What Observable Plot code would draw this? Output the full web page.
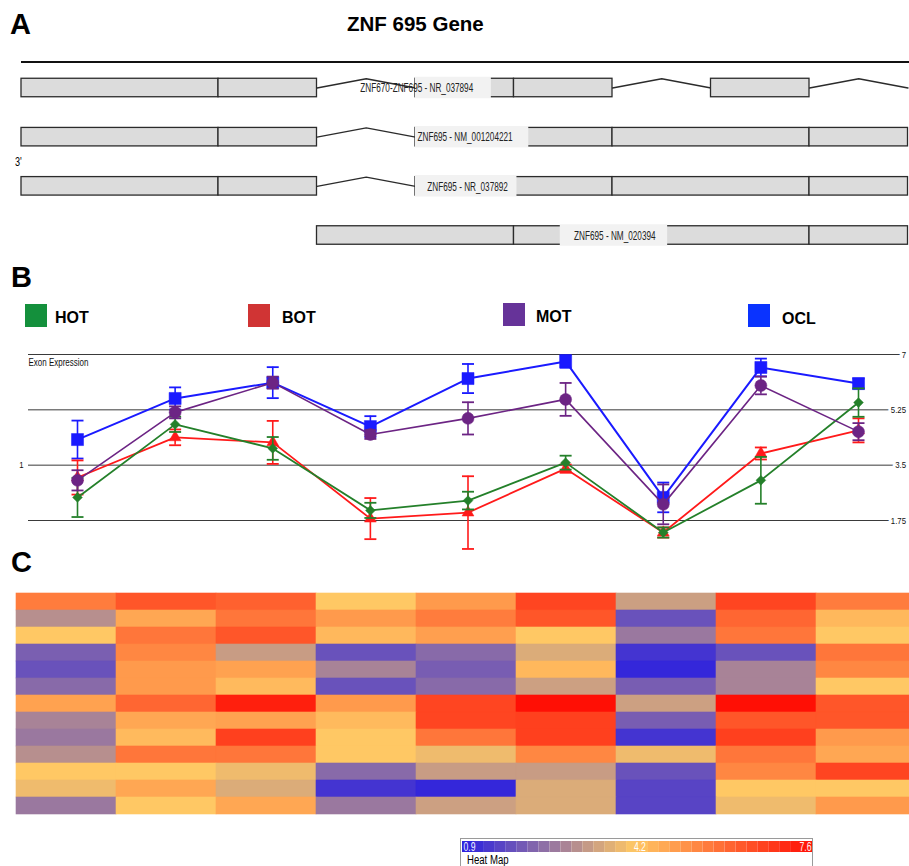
<!DOCTYPE html>
<html><head><meta charset="utf-8">
<script src="https://cdn.jsdelivr.net/npm/d3@7"></script>
<script src="https://cdn.jsdelivr.net/npm/@observablehq/plot@0.6"></script>
<style>
body{margin:0;background:#fff;}
#root{position:relative;width:909px;height:866px;overflow:hidden;background:#fff;font-family:"Liberation Sans",Arial,sans-serif;color:#000;}
.abs{position:absolute;white-space:nowrap;line-height:1;}
</style></head><body><div id="root"></div>
<script>
// ---------------- DATA ----------------
// Panel A: transcripts of ZNF695 (exon grid units)
const transcripts = ["ZNF670-ZNF695 - NR_037894", "ZNF695 - NM_001204221", "ZNF695 - NR_037892", "ZNF695 - NM_020394"];
const exonRow   = [0, 0, 0, 0, 0,   1, 1, 1, 1, 1, 1,   2, 2, 2, 2, 2, 2,   3, 3, 3, 3];
const exonStart = [0, 2, 4, 5, 7,   0, 2, 4, 5, 6, 8,   0, 2, 4, 5, 6, 8,   3, 5, 6, 8];
const exonEnd   = [2, 3, 5, 6, 8,   2, 3, 5, 6, 8, 9,   2, 3, 5, 6, 8, 9,   5, 6, 8, 9];
const intronRow   = [0, 0, 0, 1, 2];
const intronStart = [3, 6, 8, 3, 3];
const intronEnd   = [4, 7, 9, 4, 4];
const labelStart    = [3.44, 4.02, 4.12, 5.61];
const labelBoxStart = [4.0, 4.0, 4.0, 5.47];
const labelBoxEnd   = [4.77, 5.15, 5.03, 6.56];

// Panel B: exon expression
const groups = ["HOT", "BOT", "MOT", "OCL"];
const exonIdx = [1, 2, 3, 4, 5, 6, 7, 8, 9];
const hotMean = [2.48, 4.79, 4.03, 2.07, 2.38, 3.58, 1.37, 3.02, 5.48];
const hotErr  = [0.62, 0.24, 0.36, 0.24, 0.28, 0.22, 0.16, 0.74, 0.45];
const botMean = [3.11, 4.38, 4.22, 1.81, 2.00, 3.39, 1.37, 3.87, 4.60];
const botErr  = [0.54, 0.25, 0.68, 0.65, 1.15, 0.13, 0.16, 0.19, 0.38];
const motMean = [3.02, 5.17, 6.11, 4.47, 4.98, 5.58, 2.26, 6.02, 4.56];
const motErr  = [0.32, 0.19, 0.19, 0.14, 0.51, 0.52, 0.63, 0.28, 0.27];
const oclMean = [4.31, 5.61, 6.11, 4.72, 6.24, 6.78, 2.48, 6.59, 6.08];
const oclErr  = [0.60, 0.35, 0.49, 0.33, 0.46, 0.20, 0.47, 0.28, 0.16];
const yTicks = [1.75, 3.5, 5.25, 7];
const leftLabels = [{y: 3.5, text: "1"}];

// Panel C: heat map (13 rows x 9 exons)
const heatColumns = [1, 2, 3, 4, 5, 6, 7, 8, 9];
const heatValues = [
  [5.6, 6.3, 6.1, 4.2, 5.05, 6.6, 3.4, 6.6, 5.6],
  [3.1, 4.8, 5.7, 5.05, 5.6, 6.3, 1.9, 6.0, 4.5],
  [4.2, 5.7, 6.3, 4.5, 4.95, 4.2, 2.65, 5.7, 4.2],
  [2.16, 5.4, 3.35, 1.9, 2.37, 3.65, 1.33, 1.9, 5.7],
  [1.9, 5.05, 4.9, 2.86, 2.13, 4.5, 1.08, 2.86, 5.4],
  [2.37, 5.05, 4.45, 1.9, 2.37, 3.42, 2.13, 2.86, 4.2],
  [4.9, 6.0, 7.3, 5.05, 6.6, 7.6, 3.42, 7.6, 6.3],
  [2.86, 4.8, 4.9, 4.45, 6.6, 6.7, 2.13, 6.3, 6.3],
  [2.65, 4.45, 6.7, 4.2, 5.7, 6.7, 1.33, 6.7, 5.05],
  [3.1, 5.7, 5.7, 4.2, 3.95, 5.4, 3.95, 5.7, 4.8],
  [4.2, 4.2, 3.95, 2.37, 3.35, 3.35, 1.9, 5.4, 6.6],
  [3.95, 4.8, 3.65, 1.33, 1.08, 3.65, 1.64, 4.2, 4.2],
  [2.65, 4.2, 4.8, 2.65, 3.42, 3.65, 1.64, 3.95, 5.05]
];
const colorTicks = [0.9, 4.2, 7.6];

// ---------------- HELPERS ----------------
const root = document.getElementById("root");
const FONT = "Liberation Sans, Arial, sans-serif";
function place(el, left, top) {
  const w = document.createElement("div");
  w.className = "abs"; w.style.left = left + "px"; w.style.top = top + "px";
  w.appendChild(el); root.appendChild(w); return w;
}
function label(text, left, baseline, fs, o = {}) {
  const d = document.createElement("div");
  d.className = "abs"; d.textContent = text;
  d.style.left = left + "px"; d.style.top = (baseline - 0.8465 * fs) + "px";
  d.style.fontSize = fs + "px";
  if (o.bold) d.style.fontWeight = "bold";
  if (o.sx) { d.style.transform = `scaleX(${o.sx})`; d.style.transformOrigin = "left top"; }
  if (o.color) d.style.color = o.color;
  root.appendChild(d); return d;
}
function box(left, top, w, h, css) {
  const d = document.createElement("div");
  d.className = "abs"; d.style.left = left + "px"; d.style.top = top + "px";
  d.style.width = w + "px"; d.style.height = h + "px"; d.style.cssText += css;
  root.appendChild(d); return d;
}
// horizontally condense all texts of a plot (factor may depend on the text)
function squeeze(svg, f) {
  d3.select(svg).selectAll("text").each(function () {
    const k = typeof f === "function" ? f(this.textContent) : f;
    const L = this.getComputedTextLength();
    if (L > 0) {
      this.setAttribute("textLength", L * k);
      this.setAttribute("lengthAdjust", "spacingAndGlyphs");
    }
  });
}
const svgStyle = {background: "transparent", fontFamily: FONT, overflow: "visible"};

// ---------------- PANEL A ----------------
const half = 0.188;
const exons = exonRow.map((r, i) => ({row: r, x1: exonStart[i], x2: exonEnd[i]}));
const intronPts = intronRow.flatMap((r, i) => [
  {id: i, x: intronStart[i], y: r},
  {id: i, x: (intronStart[i] + intronEnd[i]) / 2, y: r - half},
  {id: i, x: intronEnd[i], y: r}
]);
const labels = transcripts.map((t, i) => ({row: i, text: t, x: labelStart[i], b1: labelBoxStart[i], b2: labelBoxEnd[i]}));

const plotA = Plot.plot({
  width: 909, height: 200, marginLeft: 21, marginRight: 1.5, marginTop: 7, marginBottom: 0,
  style: svgStyle,
  x: {domain: [0, 9], axis: null},
  y: {domain: [0, 3], range: [32.5, 180], axis: null},
  marks: [
    Plot.line(intronPts, {x: "x", y: "y", z: "id", stroke: "#2b2b2b", strokeWidth: 1.3}),
    Plot.rect(exons, {x1: "x1", x2: "x2", y1: d => d.row - half, y2: d => d.row + half, fill: "#dcdcdc", stroke: "#2b2b2b", strokeWidth: 1.3}),
    Plot.rect(labels, {x1: "b1", x2: "b2", y1: d => d.row - half - 0.03, y2: d => d.row + half + 0.03, fill: "#f2f2f2"}),
    Plot.text(labels, {x: "x", y: "row", text: "text", textAnchor: "start", fontSize: 13, fill: "#222"})
  ]
});
place(plotA, 0, 55);
squeeze(plotA, 0.63);

// ---------------- PANEL B ----------------
const capSymbol = {draw(ctx, size) { const r = Math.sqrt(size / Math.PI); ctx.moveTo(-r, 0); ctx.lineTo(r, 0); }};
function seriesMarks(mean, err, color, symbol, r, sw) {
  const d = exonIdx.map((x, i) => ({x, y: mean[i], lo: mean[i] - err[i], hi: mean[i] + err[i]}));
  return [
    Plot.line(d, {x: "x", y: "y", stroke: color, strokeWidth: sw}),
    Plot.ruleX(d, {x: "x", y1: "lo", y2: "hi", stroke: color, strokeWidth: 1.6}),
    Plot.dot(d, {x: "x", y: "lo", symbol: capSymbol, r: 6, fill: "none", stroke: color, strokeWidth: 1.8}),
    Plot.dot(d, {x: "x", y: "hi", symbol: capSymbol, r: 6, fill: "none", stroke: color, strokeWidth: 1.8}),
    Plot.dot(d, {x: "x", y: "y", symbol, r, fill: color, stroke: color, strokeWidth: 0.5})
  ];
}
const plotB = Plot.plot({
  width: 909, height: 215, marginLeft: 28, marginRight: 3.5, marginTop: 14, marginBottom: 35,
  style: svgStyle,
  x: {domain: [1, 9], range: [77, 858], axis: null},
  y: {domain: [1.75, 7], axis: null},
  marks: [
    Plot.ruleY(yTicks, {stroke: "#3a3a3a", strokeWidth: 1}),
    Plot.text(yTicks, {y: d => d, text: d => String(d), frameAnchor: "right", textAnchor: "end", fontSize: 9.5, fill: "white", stroke: "white", strokeWidth: 7}),
    Plot.text(yTicks, {y: d => d, text: d => String(d), frameAnchor: "right", textAnchor: "end", fontSize: 9.5, fill: "#111"}),
    Plot.text(["Exon Expression"], {text: d => d, frameAnchor: "top-left", dy: 4, textAnchor: "start", fontSize: 10.5, fill: "#111"}),
    Plot.text(leftLabels, {y: "y", text: "text", frameAnchor: "left", dx: -5, textAnchor: "end", fontSize: 9.5, fill: "#111"}),
    ...seriesMarks(oclMean, oclErr, "#1a1aff", "square", 6.8, 2),
    ...seriesMarks(botMean, botErr, "#ff1a1a", "triangle", 4.4, 1.8),
    ...seriesMarks(hotMean, hotErr, "#24802a", "diamond2", 4.4, 1.8),
    ...seriesMarks(motMean, motErr, "#6c2484", "circle", 6, 1.6)
  ]
});
place(plotB, 0, 340);
squeeze(plotB, t => t === "Exon Expression" ? 0.76 : 0.82);

// ---------------- PANEL C ----------------
const colorScale = {type: "linear", domain: colorTicks, range: ["#281ee1", "#ffc864", "#ff0f05"], interpolate: "rgb"};
const heat = heatValues.flatMap((row, i) => row.map((v, j) => ({row: i + 1, col: heatColumns[j], v})));
const plotC = Plot.plot({
  width: 909, height: 235, marginLeft: 12, marginRight: -10, marginTop: 5, marginBottom: 4,
  style: svgStyle,
  x: {type: "band", domain: heatColumns, padding: 0, axis: null},
  y: {type: "band", domain: heatValues.map((_, i) => i + 1), padding: 0, axis: null},
  color: colorScale,
  marks: [Plot.cell(heat, {x: "col", y: "row", fill: "v", stroke: "v", strokeWidth: 0.6, inset: 0})]
});
place(plotC, 0, 585);

// colour bar
const lo = colorTicks[0], hi = colorTicks[colorTicks.length - 1], nSteps = 32;
const steps = d3.range(nSteps).map(i => ({a: lo + i * (hi - lo) / nSteps, b: lo + (i + 1) * (hi - lo) / nSteps}));
box(460, 838, 353, 40, "border:1px solid #9a9a9a;box-sizing:border-box;background:#fff;");
const plotBar = Plot.plot({
  width: 350, height: 11, margin: 0,
  style: svgStyle,
  x: {domain: [lo, hi], axis: null},
  color: colorScale,
  marks: [
    Plot.rect(steps, {x1: "a", x2: "b", fill: d => (d.a + d.b) / 2}),
    Plot.text([colorTicks[0]], {x: d => d, text: d => String(d), textAnchor: "start", dx: 1, fontSize: 12.5, fill: "#eef"}),
    Plot.text([colorTicks[1]], {x: d => d, text: d => String(d), textAnchor: "middle", dx: 5, fontSize: 12.5, fill: "#fff"}),
    Plot.text([colorTicks[2]], {x: d => d, text: d => String(d), textAnchor: "end", dx: -1, fontSize: 12.5, fill: "#fee"})
  ]
});
place(plotBar, 462, 841);
squeeze(plotBar, 0.69);

// ---------------- TEXT & LEGEND ----------------
box(21, 61, 888, 2, "background:#111;");
label("A", 10, 35, 29, {bold: true});
label("ZNF 695 Gene", 347, 31.5, 20.5, {bold: true});
label("3'", 15, 166, 13, {sx: 0.7});
label("B", 11, 288, 29, {bold: true});
label("C", 11, 573, 29, {bold: true});
label("Heat Map", 467, 864, 12, {sx: 0.8});

const legendColors = ["#14903c", "#d03434", "#663399", "#0a33ff"];
const legendSq = [[25, 304], [248, 304], [503, 303], [748, 304]];
const legendText = [[55, 324], [282, 324], [536, 323], [782, 324.5]];
groups.forEach((g, i) => {
  box(legendSq[i][0], legendSq[i][1], 22, 23, `background:${legendColors[i]};`);
  label(g, legendText[i][0], legendText[i][1], 16, {bold: true});
});
</script></body></html>
